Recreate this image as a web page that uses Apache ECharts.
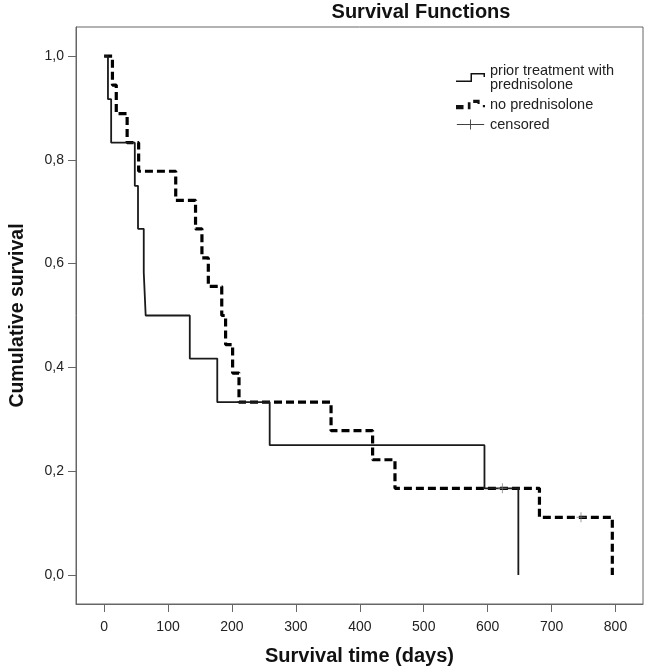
<!DOCTYPE html>
<html><head><meta charset="utf-8">
<script src="https://cdn.jsdelivr.net/npm/echarts@6/dist/echarts.min.js"></script>
<style>html,body{margin:0;padding:0;background:#fff}#c{width:645px;height:671px}</style>
</head><body><div id="c"></div>
<script>
const titleText = 'Survival Functions';
const xAxisTitle = 'Survival time (days)';
const yAxisTitle = 'Cumulative survival';
const groupNames = ['prior treatment with\nprednisolone', 'no prednisolone', 'censored'];
const xTicks = [0, 100, 200, 300, 400, 500, 600, 700, 800];
const yTicks = [0, 0.2, 0.4, 0.6, 0.8, 1.0];
// Group 1: prior treatment with prednisolone (event times in days, survival after event)
const prednTimes = [0, 6, 11, 48, 53, 62, 65, 134, 177, 259, 595, 648];
const prednSurv  = [1, 0.917, 0.833, 0.75, 0.667, 0.583, 0.5, 0.417, 0.333, 0.25, 0.167, 0];
// Group 2: no prednisolone
const noPrednTimes = [0, 13, 19, 36, 54, 112, 143, 153, 163, 184, 190, 201, 211, 355, 420, 455, 681, 795];
const noPrednSurv  = [1, 0.944, 0.889, 0.833, 0.778, 0.722, 0.667, 0.611, 0.556, 0.5, 0.444, 0.389, 0.333, 0.278, 0.222, 0.167, 0.111, 0];
// Censored observations
const censorTimes = [623, 746];
const censorSurv  = [0.167, 0.111];

const zip = (a, b) => a.map((v, i) => [v, b[i]]);
const FONT = 'Liberation Sans, Arial, sans-serif';
const AX = '#666';

const solidIcon = 'path://M0,8.5H16V10H0Z M14.5,1H16V10H14.5Z M14.5,1H29V2.5H14.5Z M27.5,1H29V5H27.5Z';
const dashIcon = 'path://M0,5H7V9H0Z M11,2.5H13.5V9H11Z M16,0H22V3H16Z M20,0H22V4H20Z M25,5H27V7H25Z';
const censorIcon = 'path://M0,5H30V6H0Z M14.5,0H15.5V11H14.5Z';
const censorSymbol = 'path://M0,4.5H10V5.5H0Z M4.5,0H5.5V10H4.5Z';

const chart = echarts.init(document.getElementById('c'), null, {renderer: 'canvas'});
chart.setOption({
  animation: false,
  backgroundColor: '#fff',
  title: {
    text: titleText, left: 421, top: 2, padding: 0, textAlign: 'center',
    textStyle: {fontFamily: FONT, fontWeight: 'bold', fontSize: 20, color: '#111'}
  },
  legend: {
    orient: 'vertical', left: 451, top: 58, itemWidth: 29, itemHeight: 10, itemGap: 5,
    selectedMode: false,
    itemStyle: {color: '#111', borderWidth: 0},
    textStyle: {fontFamily: FONT, fontSize: 14.5, lineHeight: 14, color: '#222'},
    data: [
      {name: groupNames[0], icon: solidIcon},
      {name: groupNames[1], icon: dashIcon},
      {name: groupNames[2], icon: censorIcon}
    ]
  },
  grid: {left: 65, right: 2, top: 27, bottom: 66, show: true, borderColor: AX, borderWidth: 1, containLabel: false},
  xAxis: {
    type: 'value', min: -44, max: 843,
    name: xAxisTitle, nameLocation: 'middle', nameGap: 42,
    nameTextStyle: {fontFamily: FONT, fontWeight: 'bold', fontSize: 20, color: '#111'},
    axisLine: {show: true, onZero: false, lineStyle: {color: AX}},
    axisTick: {show: true, length: 8, lineStyle: {color: AX}, customValues: xTicks},
    axisLabel: {fontFamily: FONT, fontSize: 14, color: '#222', margin: 16, customValues: xTicks},
    splitLine: {show: false}
  },
  yAxis: {
    type: 'value', min: -0.056, max: 1.056,
    name: yAxisTitle, nameLocation: 'middle', nameGap: 48,
    nameTextStyle: {fontFamily: FONT, fontWeight: 'bold', fontSize: 19.5, color: '#111'},
    axisLine: {show: true, onZero: false, lineStyle: {color: AX}},
    axisTick: {show: true, length: 8, lineStyle: {color: AX}, customValues: yTicks},
    axisLabel: {fontFamily: FONT, fontSize: 14, color: '#222', margin: 12, customValues: yTicks,
      formatter: v => v.toFixed(1).replace('.', ',')},
    splitLine: {show: false}
  },
  series: [
    {
      name: groupNames[0], type: 'line', step: 'end', symbol: 'none',
      data: zip(prednTimes, prednSurv),
      lineStyle: {color: '#1a1a1a', width: 1.8, type: 'solid'},
      itemStyle: {color: '#111'}, z: 3
    },
    {
      name: groupNames[1], type: 'line', step: 'end', symbol: 'none',
      data: zip(noPrednTimes, noPrednSurv),
      lineStyle: {color: '#000', width: 3.2, type: [8, 4]},
      itemStyle: {color: '#111'}, z: 2
    },
    {
      name: groupNames[2], type: 'scatter', symbol: censorSymbol, symbolSize: [9, 10],
      data: zip(censorTimes, censorSurv),
      itemStyle: {color: '#777'}, z: 4
    }
  ]
});
</script></body></html>
